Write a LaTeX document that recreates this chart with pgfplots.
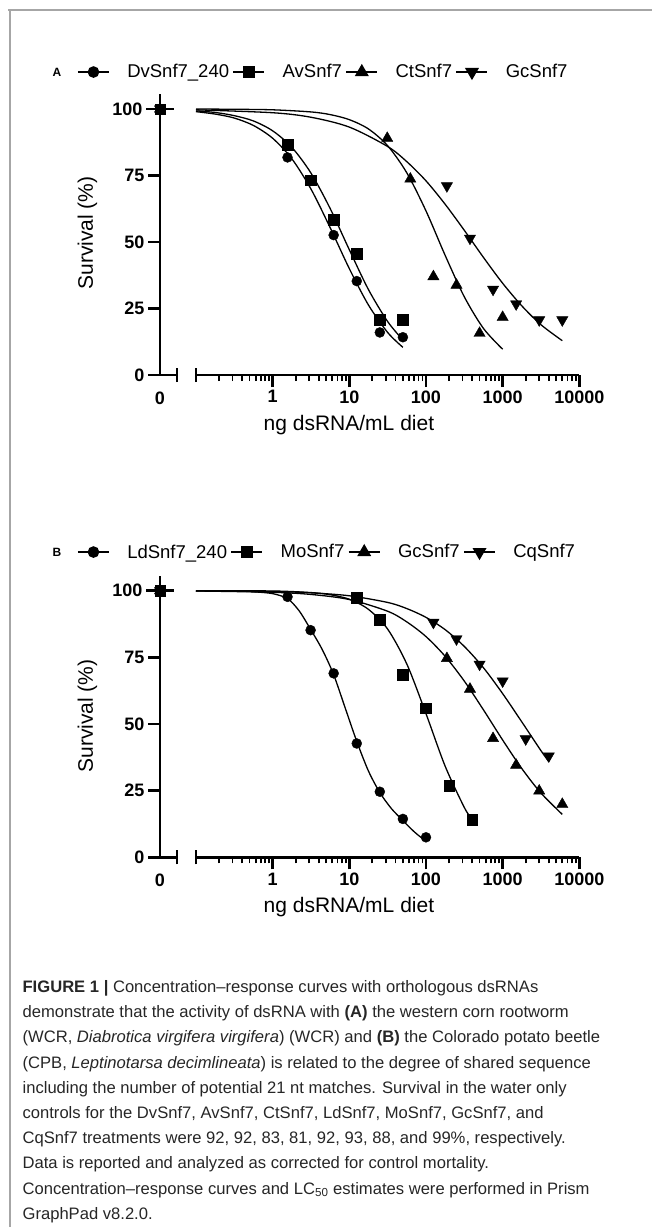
\documentclass[border=0pt]{standalone}
\usepackage{fontspec}
\setmainfont{Liberation Sans}
\usepackage{pgfplots}
\usepackage{pgfplotstable}
\pgfplotsset{compat=1.18}

% concentration-response data (ng dsRNA/mL diet, survival %)
\pgfplotstableread{
c      S
0.1    99.0
0.1778 98.1
0.3162 96.6
0.5623 93.8
1      89.0
1.778  81.3
3.162  69.9
5.623  55.4
10     40.0
17.78  26.3
31.62  16.0
50     10.4
}\fitDv
\pgfplotstableread{
c      S
0.1    99.3
0.1778 98.7
0.3162 97.5
0.5623 95.5
1      91.8
1.778  85.6
3.162  75.9
5.623  62.6
10     47.1
17.78  32.1
31.62  20.1
50     13.2
}\fitAv
\pgfplotstableread{
c      S
0.1    100.0
0.3162 99.9
1      99.7
3.162  98.9
5.623  97.9
10     96.0
17.78  92.5
31.62  86.2
56.23  76.0
100    61.7
177.8  45.0
316.2  29.4
562.3  17.5
1000   9.7
}\fitCt
\pgfplotstableread{
c      S
0.1    99.7
1      98.6
3.162  96.9
10     93.2
31.62  85.9
56.23  80.2
100    73.0
177.8  64.2
316.2  54.4
562.3  44.2
1000   34.5
1778   26.0
3162   18.9
6000   12.9
}\fitGcA
\pgfplotstableread{
c      S
0.1    100.0
0.3162 99.9
0.5623 99.6
1      98.9
1.5625 97.0
2.21   92.5
3.125  85.5
4.42   78.0
6.25   68.5
8.84   56.0
12.5   43.5
17.68  32.5
25     24.3
35.36  18.3
50     13.8
70.71  9.5
100    6.0
}\fitLd
\pgfplotstableread{
c      S
0.1    100.0
1      99.9
3.162  99.3
5.623  98.5
10     96.8
17.78  93.0
31.62  85.6
56.23  72.5
100    53.9
177.8  34.2
316.2  18.7
400    14.2
}\fitMo
\pgfplotstableread{
c      S
0.1    99.9
1      99.4
3.162  98.6
10     96.7
31.62  92.3
56.23  88.3
100    82.8
177.8  75.4
316.2  66.1
562.3  55.3
1000   44.0
1778   33.3
3162   24.1
6000   16.1
}\fitGcB
\pgfplotstableread{
c      S
0.1    99.9
1      99.7
3.162  99.2
10     98.1
31.62  95.6
56.23  93.3
100    90.0
177.8  85.4
316.2  79.1
562.3  71.1
1000   61.4
1778   50.8
3162   40.0
4000   35.9
}\fitCq

\pgfplotsset{
  gpcirc/.style={mark=*, mark size=5pt},
  gpsq/.style={mark=square*, mark size=5.3pt},
  gptri/.style={mark=triangle*, mark size=6.5pt},
  gpitri/.style={mark=triangle*, mark size=6.5pt, mark options={rotate=180}},
}

\begin{document}
\begin{tikzpicture}[x=1pt,y=1pt]
\useasboundingbox (0,0) rectangle (652,-1227);
\draw[black!35, line width=1.3pt] (8,-10) -- (652,-10);
\draw[black!35, line width=1.3pt] (10,-10) -- (10,-1227);

% ---------------- panel A
\node[font=\bfseries\fontsize{12}{12}\selectfont] at (57,-72) {A};
\begin{axis}[at={(160pt,-375pt)}, anchor=south west, scale only axis,
  width=17pt, height=266pt, xmin=0, xmax=1, ymin=0, ymax=100, clip=false,
  axis x line=bottom, axis y line=left, axis line style={-, line width=2.6pt},
  tick align=outside, major tick length=12pt,
  every major tick/.append style={line width=2.6pt, black},
  ytick={0,25,50,75}, yticklabels={0,25,50,75},
  extra y ticks={100}, extra y tick labels={100},
  extra y tick style={tick align=center, major tick length=28pt},
  xtick=\empty, extra x ticks={1}, extra x tick labels={},
  extra x tick style={tick align=center, major tick length=14pt},
  ticklabel style={font=\bfseries\fontsize{18}{18}\selectfont},
  xlabel={\bfseries\fontsize{18}{18}\selectfont 0},
  xlabel style={at={(axis description cs:0,0)}, anchor=center, yshift=-23pt},
  ylabel={\fontsize{21}{21}\selectfont Survival (\%)},
  ylabel style={at={(axis description cs:-4.265,0.534)}, anchor=center}]
\draw[line width=2.6pt] (axis cs:0,100) -- (axis cs:0,105.5);
\addplot[only marks, black, gpcirc] coordinates {(0,100)};
\addplot[only marks, black, gpsq] coordinates {(0,100)};
\addplot[only marks, black, gptri] coordinates {(0,100)};
\addplot[only marks, black, gpitri] coordinates {(0,100)};
\end{axis}
\begin{axis}[at={(196pt,-375pt)}, anchor=south west, scale only axis,
  width=383.3pt, height=266pt, xmode=log, xmin=0.1, xmax=10000,
  ymin=0, ymax=100, clip=false,
  axis x line=bottom, axis y line=none, axis line style={-, line width=2.6pt},
  tick align=outside, major tick length=12pt, minor tick length=6pt,
  every major tick/.append style={line width=2.6pt, black},
  every minor tick/.append style={line width=1.8pt, black},
  xtick={1,10,100,1000,10000}, xticklabels={1,10,100,1000,10000},
  minor xtick={0.2,0.3,0.4,0.5,0.6,0.7,0.8,0.9,2,3,4,5,6,7,8,9,20,30,40,50,60,70,80,90,200,300,400,500,600,700,800,900,2000,3000,4000,5000,6000,7000,8000,9000},
  extra x ticks={0.1}, extra x tick labels={},
  extra x tick style={tick align=center, major tick length=14pt},
  ticklabel style={font=\bfseries\fontsize{18}{18}\selectfont},
  xlabel={\fontsize{21}{21}\selectfont ng dsRNA/mL diet},
  xlabel style={at={(axis description cs:0.399,0)}, anchor=center, yshift=-50pt},
  legend columns=4,
  legend image code/.code={\draw[mark repeat=2, mark phase=2]
    plot coordinates {(0pt,0pt) (15.5pt,0pt) (31pt,0pt)};},
  legend style={at={(-0.3105,1.139)}, anchor=west, draw=none, fill=none,
    inner sep=0pt, font=\fontsize{18.5}{18.5}\selectfont, nodes={inner sep=0pt},
    /tikz/every odd column/.append style={column sep=17.5pt},
    /tikz/every even column/.append style={column sep=3.5pt}}]
\addplot[black, line width=1.3pt, smooth, no marks, forget plot] table {\fitDv};
\addplot[black, line width=1.3pt, smooth, no marks, forget plot] table {\fitAv};
\addplot[black, line width=1.3pt, smooth, no marks, forget plot] table {\fitCt};
\addplot[black, line width=1.3pt, smooth, no marks, forget plot] table {\fitGcA};
\addplot[only marks, black, gpcirc, forget plot] coordinates {(1.5625,81.8)(3.125,73)(6.25,52.6)(12.5,35.3)(25,16)(50,14.2)};
\addplot[only marks, black, gpsq, forget plot] coordinates {(1.5625,86.5)(3.125,73.3)(6.25,58.3)(12.5,45.5)(25,20.7)(50,20.7)};
\addplot[only marks, black, gptri, forget plot] coordinates {(31.25,89)(62.5,73.7)(125,37)(250,33.8)(500,15.7)(1000,21.7)};
\addplot[only marks, black, gpitri, forget plot] coordinates {(187.5,71.1)(375,51.4)(750,32.2)(1500,26.7)(3000,20.7)(6000,20.7)};
\addlegendimage{black, line width=1.6pt, gpcirc}\addlegendentry{DvSnf7\_240}
\addlegendimage{black, line width=1.6pt, gpsq}\addlegendentry{AvSnf7}
\addlegendimage{black, line width=1.6pt, gptri}\addlegendentry{CtSnf7}
\addlegendimage{black, line width=1.6pt, gpitri}\addlegendentry{GcSnf7}
\end{axis}

% ---------------- panel B
\node[font=\bfseries\fontsize{12}{12}\selectfont] at (57,-552) {B};
\begin{axis}[at={(160pt,-857.3pt)}, anchor=south west, scale only axis,
  width=17pt, height=266.6pt, xmin=0, xmax=1, ymin=0, ymax=100, clip=false,
  axis x line=bottom, axis y line=left, axis line style={-, line width=2.6pt},
  tick align=outside, major tick length=12pt,
  every major tick/.append style={line width=2.6pt, black},
  ytick={0,25,50,75}, yticklabels={0,25,50,75},
  extra y ticks={100}, extra y tick labels={100},
  extra y tick style={tick align=center, major tick length=28pt},
  xtick=\empty, extra x ticks={1}, extra x tick labels={},
  extra x tick style={tick align=center, major tick length=14pt},
  ticklabel style={font=\bfseries\fontsize{18}{18}\selectfont},
  xlabel={\bfseries\fontsize{18}{18}\selectfont 0},
  xlabel style={at={(axis description cs:0,0)}, anchor=center, yshift=-23pt},
  ylabel={\fontsize{21}{21}\selectfont Survival (\%)},
  ylabel style={at={(axis description cs:-4.265,0.53)}, anchor=center}]
\draw[line width=2.6pt] (axis cs:0,100) -- (axis cs:0,105.5);
\addplot[only marks, black, gpcirc] coordinates {(0,100)};
\addplot[only marks, black, gpsq] coordinates {(0,100)};
\addplot[only marks, black, gptri] coordinates {(0,100)};
\addplot[only marks, black, gpitri] coordinates {(0,100)};
\end{axis}
\begin{axis}[at={(196pt,-857.3pt)}, anchor=south west, scale only axis,
  width=383.3pt, height=266.6pt, xmode=log, xmin=0.1, xmax=10000,
  ymin=0, ymax=100, clip=false,
  axis x line=bottom, axis y line=none, axis line style={-, line width=2.6pt},
  tick align=outside, major tick length=12pt, minor tick length=6pt,
  every major tick/.append style={line width=2.6pt, black},
  every minor tick/.append style={line width=1.8pt, black},
  xtick={1,10,100,1000,10000}, xticklabels={1,10,100,1000,10000},
  minor xtick={0.2,0.3,0.4,0.5,0.6,0.7,0.8,0.9,2,3,4,5,6,7,8,9,20,30,40,50,60,70,80,90,200,300,400,500,600,700,800,900,2000,3000,4000,5000,6000,7000,8000,9000},
  extra x ticks={0.1}, extra x tick labels={},
  extra x tick style={tick align=center, major tick length=14pt},
  ticklabel style={font=\bfseries\fontsize{18}{18}\selectfont},
  xlabel={\fontsize{21}{21}\selectfont ng dsRNA/mL diet},
  xlabel style={at={(axis description cs:0.399,0)}, anchor=center, yshift=-50pt},
  legend columns=4,
  legend image code/.code={\draw[mark repeat=2, mark phase=2]
    plot coordinates {(0pt,0pt) (15.5pt,0pt) (31pt,0pt)};},
  legend style={at={(-0.3105,1.145)}, anchor=west, draw=none, fill=none,
    inner sep=0pt, font=\fontsize{18.5}{18.5}\selectfont, nodes={inner sep=0pt},
    /tikz/every odd column/.append style={column sep=17.5pt},
    /tikz/every even column/.append style={column sep=3.5pt}}]
\addplot[black, line width=1.3pt, smooth, no marks, forget plot] table {\fitLd};
\addplot[black, line width=1.3pt, smooth, no marks, forget plot] table {\fitMo};
\addplot[black, line width=1.3pt, smooth, no marks, forget plot] table {\fitGcB};
\addplot[black, line width=1.3pt, smooth, no marks, forget plot] table {\fitCq};
\addplot[only marks, black, gpcirc, forget plot] coordinates {(1.5625,97.7)(3.125,85.2)(6.25,69)(12.5,42.7)(25,24.6)(50,14.4)(100,7.5)};
\addplot[only marks, black, gpsq, forget plot] coordinates {(12.5,97.3)(25,89.2)(50,68.4)(100,55.9)(200,26.8)(400,14.2)};
\addplot[only marks, black, gptri, forget plot] coordinates {(187.5,74.6)(375,63.1)(750,44.6)(1500,34.6)(3000,24.9)(6000,19.9)};
\addplot[only marks, black, gpitri, forget plot] coordinates {(125,88.1)(250,81.9)(500,72.4)(1000,66.1)(2000,44.4)(4000,38)};
\addlegendimage{black, line width=1.6pt, gpcirc}\addlegendentry{LdSnf7\_240}
\addlegendimage{black, line width=1.6pt, gpsq}\addlegendentry{MoSnf7}
\addlegendimage{black, line width=1.6pt, gptri}\addlegendentry{GcSnf7}
\addlegendimage{black, line width=1.6pt, gpitri}\addlegendentry{CqSnf7}
\end{axis}

% ---------------- caption (anchored at the baseline of its last line)
\node[anchor=base west, align=left, inner sep=0pt, text=black!85,
  font=\fontsize{16.6}{25.2}\selectfont] at (22.4,-1219.3) {%
\textbf{FIGURE 1 |} Concentration–response curves with orthologous dsRNAs\\
demonstrate that the activity of dsRNA with \textbf{(A)} the western corn rootworm\\
(WCR, \textit{Diabrotica virgifera virgifera}) (WCR) and \textbf{(B)} the Colorado potato beetle\\
(CPB, \textit{Leptinotarsa decimlineata}) is related to the degree of shared sequence\\
including the number of potential 21 nt matches. Survival in the water only\\
controls for the DvSnf7, AvSnf7, CtSnf7, LdSnf7, MoSnf7, GcSnf7, and\\
CqSnf7 treatments were 92, 92, 83, 81, 92, 93, 88, and 99\%, respectively.\\
Data is reported and analyzed as corrected for control mortality.\\
Concentration–response curves and LC\textsubscript{50} estimates were performed in Prism\\
GraphPad v8.2.0.};
\end{tikzpicture}
\end{document}
